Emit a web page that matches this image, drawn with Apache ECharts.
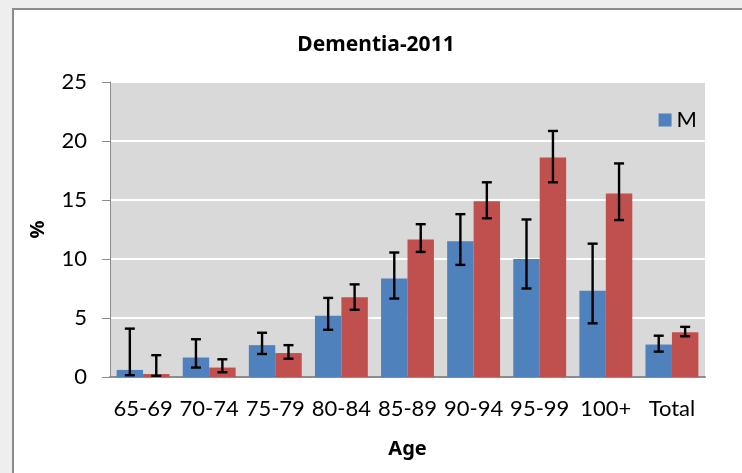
<!DOCTYPE html>
<html>
<head>
<meta charset="utf-8">
<script src="https://cdn.jsdelivr.net/npm/echarts@6/dist/echarts.min.js"></script>
<style>
  html, body { margin: 0; padding: 0; background: #eeeeee; overflow: hidden; }
  #frame { position: absolute; left: 12px; top: 8px; width: 800px; height: 500px;
           background: #ffffff; border-left: 2px solid #8c8c8c; border-top: 2px solid #8c8c8c; }
  #main { position: absolute; left: 0; top: 0; width: 742px; height: 473px; }
</style>
</head>
<body>
<div id="frame"></div>
<div id="main"></div>
<script>
// age groups
const ageGroups = ['65-69', '70-74', '75-79', '80-84', '85-89', '90-94', '95-99', '100+', 'Total'];

// men
const mValues = [0.6, 1.65, 2.7, 5.2, 8.35, 11.5, 10.0, 7.3, 2.75];
const mLow    = [0.15, 0.8, 1.95, 4.0, 6.65, 9.5, 7.5, 4.55, 2.15];
const mHigh   = [4.1, 3.2, 3.75, 6.7, 10.55, 13.8, 13.35, 11.3, 3.5];

// women
const fValues = [0.25, 0.8, 2.03, 6.75, 11.65, 14.9, 18.6, 15.55, 3.8];
const fLow    = [0.1, 0.4, 1.55, 5.7, 10.6, 13.45, 16.5, 13.3, 3.45];
const fHigh   = [1.85, 1.5, 2.7, 7.85, 12.95, 16.5, 20.85, 18.1, 4.25];

const yTicks = { min: 0, max: 25, interval: 5 };

const font = 'Lato';
const boldFont = 'Noto Sans';

let myChart = echarts.init(document.getElementById('main'));

// error bar drawn over the bar, side = -1 for M, +1 for F
function errorBar(side) {
    return function (params, api) {
        let idx = api.value(0);
        let hi = api.coord([idx, api.value(1)]);
        let lo = api.coord([idx, api.value(2)]);
        let bw = api.size([1, 0])[0] * 0.8 / 2;
        let x = hi[0] + side * bw / 2;
        let cap = 5;
        let style = { stroke: '#000', lineWidth: 2.4 };
        return {
            type: 'group',
            children: [
                { type: 'line', shape: { x1: x, y1: hi[1], x2: x, y2: lo[1] }, style: style },
                { type: 'line', shape: { x1: x - cap, y1: hi[1], x2: x + cap, y2: hi[1] }, style: style },
                { type: 'line', shape: { x1: x - cap, y1: lo[1], x2: x + cap, y2: lo[1] }, style: style }
            ]
        };
    };
}

let option = {
    backgroundColor: 'transparent',
    animation: false,
    title: {
        text: 'Dementia-2011',
        left: 371,
        textAlign: 'center',
        top: 30,
        textStyle: { fontFamily: boldFont, fontSize: 21, fontWeight: 'bold', color: '#000' }
    },
    legend: {
        data: ['M'],
        right: 40,
        top: 104,
        itemWidth: 13,
        itemHeight: 13,
        icon: 'rect',
        itemGap: 6,
        textStyle: { fontFamily: font, fontSize: 22, color: '#000' }
    },
    grid: {
        left: 110,
        top: 82,
        right: 37,
        bottom: 96,
        show: true,
        backgroundColor: '#d9d9d9',
        borderWidth: 0
    },
    xAxis: {
        type: 'category',
        data: ageGroups,
        name: 'Age',
        nameLocation: 'middle',
        nameGap: 62,
        nameTextStyle: { fontFamily: boldFont, fontSize: 20, fontWeight: 'bold', color: '#000' },
        axisLine: { lineStyle: { color: '#8c8c8c', width: 2 } },
        axisTick: { show: false },
        axisLabel: { fontFamily: font, fontSize: 22, color: '#000', margin: 21, interval: 0 }
    },
    yAxis: {
        type: 'value',
        min: yTicks.min,
        max: yTicks.max,
        interval: yTicks.interval,
        name: '%',
        nameLocation: 'middle',
        nameGap: 62,
        nameRotate: 90,
        nameTextStyle: { fontFamily: boldFont, fontSize: 20, fontWeight: 'bold', color: '#000' },
        axisLine: { show: true, lineStyle: { color: '#8c8c8c', width: 1 } },
        axisTick: { show: true, length: 8, lineStyle: { color: '#8c8c8c' } },
        axisLabel: { fontFamily: font, fontSize: 22, color: '#000', margin: 23 },
        splitLine: { lineStyle: { color: '#ffffff', width: 2 } }
    },
    series: [
        {
            name: 'M',
            type: 'bar',
            data: mValues,
            barGap: '0%',
            barCategoryGap: '20%',
            itemStyle: { color: '#4f81bd' }
        },
        {
            name: 'F',
            type: 'bar',
            data: fValues,
            itemStyle: { color: '#c0504d' }
        },
        {
            name: 'M err',
            type: 'custom',
            renderItem: errorBar(-1),
            data: ageGroups.map((c, i) => [i, mHigh[i], mLow[i]]),
            encode: { x: 0, y: [1, 2] },
            z: 10
        },
        {
            name: 'F err',
            type: 'custom',
            renderItem: errorBar(1),
            data: ageGroups.map((c, i) => [i, fHigh[i], fLow[i]]),
            encode: { x: 0, y: [1, 2] },
            z: 10
        }
    ]
};

myChart.setOption(option);
</script>
</body>
</html>
